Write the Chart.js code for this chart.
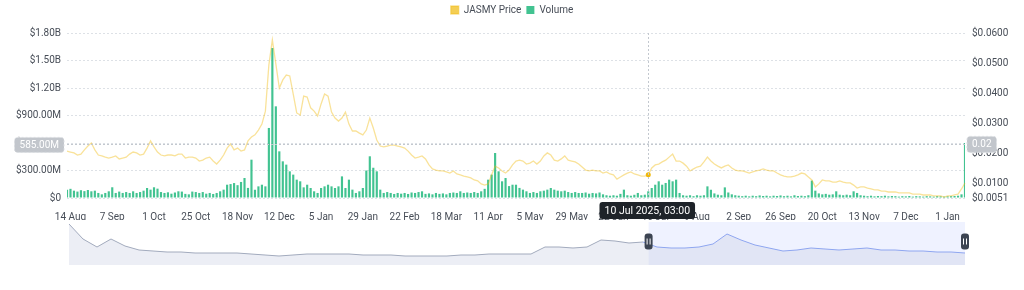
<!DOCTYPE html>
<html>
<head>
<meta charset="utf-8">
<title>JASMY Price and Volume</title>
<script src="https://cdn.jsdelivr.net/npm/chart.js@4.4.1/dist/chart.umd.min.js"></script>
<style>
  body { margin: 0; background: #fff; }
  #wrap { position: relative; width: 1024px; height: 290px; }
  #mainChart { position: absolute; left: 0; top: 0; }
  #navChart { position: absolute; left: 0; top: 215px; }
</style>
</head>
<body>
<div id="wrap">
  <canvas id="mainChart" width="1024" height="220"></canvas>
  <canvas id="navChart" width="1024" height="55"></canvas>
</div>
<script>
// Price in USD, one point every 2 days starting 12 Aug 2024
const priceData = [
  0.0207, 0.0204, 0.0201, 0.0194, 0.0197, 0.0211, 0.0224, 0.0234, 0.0211, 0.0194,
  0.0191, 0.0187, 0.0184, 0.0187, 0.0191, 0.0181, 0.0184, 0.0187, 0.0197, 0.0204,
  0.0201, 0.0194, 0.0197, 0.0217, 0.0241, 0.0221, 0.0204, 0.0194, 0.0191, 0.0194,
  0.0194, 0.0191, 0.0197, 0.0197, 0.0184, 0.0187, 0.0187, 0.0184, 0.0174, 0.0177,
  0.0184, 0.0187, 0.0174, 0.0164, 0.0177, 0.0194, 0.0217, 0.0231, 0.0211, 0.0217,
  0.0207, 0.0211, 0.0241, 0.0254, 0.0261, 0.0277, 0.0297, 0.0340, 0.0494, 0.0577,
  0.0497, 0.0417, 0.0444, 0.0460, 0.0457, 0.0397, 0.0334, 0.0327, 0.0390, 0.0387,
  0.0351, 0.0340, 0.0324, 0.0364, 0.0397, 0.0390, 0.0337, 0.0317, 0.0307, 0.0317,
  0.0337, 0.0297, 0.0274, 0.0274, 0.0267, 0.0261, 0.0277, 0.0317, 0.0284, 0.0244,
  0.0224, 0.0221, 0.0224, 0.0227, 0.0227, 0.0224, 0.0221, 0.0217, 0.0207, 0.0194,
  0.0184, 0.0187, 0.0191, 0.0181, 0.0161, 0.0148, 0.0144, 0.0141, 0.0141, 0.0138,
  0.0134, 0.0141, 0.0131, 0.0128, 0.0124, 0.0121, 0.0118, 0.0111, 0.0108, 0.0098,
  0.0094, 0.0098, 0.0128, 0.0157, 0.0151, 0.0141, 0.0134, 0.0144, 0.0161, 0.0174,
  0.0177, 0.0174, 0.0164, 0.0167, 0.0174, 0.0164, 0.0174, 0.0191, 0.0201, 0.0194,
  0.0177, 0.0174, 0.0181, 0.0191, 0.0177, 0.0174, 0.0171, 0.0164, 0.0154, 0.0144,
  0.0141, 0.0144, 0.0141, 0.0141, 0.0134, 0.0138, 0.0131, 0.0128, 0.0114, 0.0121,
  0.0128, 0.0134, 0.0138, 0.0131, 0.0128, 0.0124, 0.0124, 0.0128, 0.0151, 0.0161,
  0.0164, 0.0171, 0.0177, 0.0187, 0.0197, 0.0174, 0.0174, 0.0167, 0.0157, 0.0141,
  0.0148, 0.0154, 0.0157, 0.0171, 0.0187, 0.0174, 0.0164, 0.0157, 0.0151, 0.0157,
  0.0161, 0.0151, 0.0144, 0.0141, 0.0141, 0.0138, 0.0134, 0.0138, 0.0141, 0.0144,
  0.0148, 0.0144, 0.0141, 0.0141, 0.0134, 0.0128, 0.0124, 0.0121, 0.0121, 0.0124,
  0.0128, 0.0134, 0.0131, 0.0121, 0.0111, 0.0088, 0.0098, 0.0111, 0.0108, 0.0108,
  0.0104, 0.0104, 0.0108, 0.0104, 0.0101, 0.0101, 0.0094, 0.0084, 0.0088, 0.0088,
  0.0084, 0.0081, 0.0078, 0.0078, 0.0074, 0.0074, 0.0071, 0.0071, 0.0071, 0.0068,
  0.0068, 0.0068, 0.0068, 0.0064, 0.0064, 0.0064, 0.0061, 0.0061, 0.0061, 0.0058,
  0.0058, 0.0058, 0.0054, 0.0058, 0.0058, 0.0061, 0.0064, 0.0081, 0.0101
];

// Volume in millions of USD, same dates
const volumeM = [
  90, 100, 80, 70, 85, 75, 87, 73, 80, 55,
  40, 55, 73, 117, 55, 70, 55, 65, 55, 73,
  55, 65, 80, 109, 91, 117, 102, 65, 55, 62,
  47, 60, 73, 70, 45, 40, 70, 65, 55, 65,
  47, 55, 44, 55, 73, 91, 145, 152, 163, 140,
  175, 218, 110, 418, 90, 127, 145, 127, 764, 1636,
  1000, 509, 400, 364, 291, 255, 200, 182, 116, 145,
  109, 73, 55, 109, 127, 145, 127, 109, 127, 236,
  109, 200, 91, 55, 73, 109, 300, 455, 330, 291,
  91, 55, 65, 55, 44, 55, 47, 55, 44, 60,
  55, 65, 73, 45, 50, 40, 55, 45, 50, 40,
  55, 60, 55, 73, 55, 60, 55, 65, 55, 73,
  100, 200, 255, 491, 291, 182, 218, 130, 145, 145,
  110, 91, 73, 55, 65, 55, 73, 80, 91, 109,
  91, 80, 73, 80, 65, 55, 65, 55, 55, 60,
  47, 55, 50, 60, 40, 30, 25, 30, 25, 45,
  91, 30, 25, 35, 55, 30, 36, 73, 109, 145,
  182, 145, 164, 200, 182, 200, 55, 30, 25, 30,
  20, 30, 25, 30, 127, 90, 50, 36, 30, 116,
  60, 40, 30, 25, 20, 25, 18, 25, 20, 28,
  22, 25, 18, 25, 22, 28, 20, 25, 18, 30,
  22, 25, 20, 30, 190, 80, 50, 40, 45, 36,
  40, 73, 36, 30, 36, 30, 73, 55, 30, 25,
  20, 25, 18, 22, 20, 25, 18, 22, 20, 15,
  20, 18, 22, 15, 20, 18, 15, 20, 18, 15,
  20, 18, 15, 18, 20, 22, 25, 40, 600
];

// X axis labels, shown every 12 points (24 days) from point 1
const tickLabels = ['14 Aug', '7 Sep', '1 Oct', '25 Oct', '18 Nov', '12 Dec', '5 Jan', '29 Jan',
  '22 Feb', '18 Mar', '11 Apr', '5 May', '29 May', '22 Jun', '16 Jul', '9 Aug', '2 Sep',
  '26 Sep', '20 Oct', '13 Nov', '7 Dec', '1 Jan'];
const firstTickIndex = 1;
const tickEvery = 12;

// Right axis ticks
const priceTicks = [0.0051, 0.01, 0.02, 0.03, 0.04, 0.05, 0.06];

// Crosshair state shown in the picture
const hoverIndex = 167;
const hoverVolume = 585e6;
const hoverTime = '10 Jul 2025, 03:00';

// Navigator: long price history (relative level) and selected window
const navigatorPrice = [
  41, 26, 18, 26, 19, 15, 14, 13, 13, 12,
  12, 12, 12, 11, 10, 9, 10, 11, 11, 11,
  11, 10, 10, 10, 9, 9, 9, 9, 10, 10,
  11, 11, 11, 11, 18, 18, 17, 18, 25, 24,
  22, 23, 18, 17, 17, 18, 21, 31, 25, 20,
  17, 14, 15, 17, 16, 15, 16, 17, 15, 15,
  14, 14, 13, 13, 12
];
const navigatorRange = [41.4, 64];

const fontFamily = 'Roboto, "Noto Sans", sans-serif';
const textColor = '#474D57';

// Build date labels for the main chart
const startDate = new Date(2024, 7, 12);
const labels = priceData.map((_, i) => {
    const d = new Date(startDate);
    d.setDate(d.getDate() + 2 * i);
    return d.toLocaleDateString('en-GB', { day: 'numeric', month: 'short', year: 'numeric' });
});

function formatVolume(v) {
    if (v === 0) return '$0';
    if (v >= 1e9) return '$' + (v / 1e9).toFixed(2) + 'B';
    return '$' + (v / 1e6).toFixed(2) + 'M';
}

// Keep the legend row at the top and push the plot down to its place
const legendSpacer = {
    id: 'legendSpacer',
    beforeInit(chart) {
        const origFit = chart.legend.fit;
        chart.legend.fit = function() {
            origFit.bind(this)();
            this.height = 33;
        };
    }
};

function drawTag(ctx, text, x, y, w, h, fill, stroke) {
    ctx.beginPath();
    ctx.roundRect(x, y, w, h, 3);
    ctx.fillStyle = fill;
    ctx.fill();
    if (stroke) {
        ctx.setLineDash([2, 2]);
        ctx.strokeStyle = stroke;
        ctx.lineWidth = 1;
        ctx.stroke();
        ctx.setLineDash([]);
    }
    ctx.fillStyle = '#FFFFFF';
    ctx.textAlign = 'center';
    ctx.textBaseline = 'middle';
    ctx.fillText(text, x + w / 2, y + h / 2 + 0.5);
}

const crosshair = {
    id: 'crosshair',
    afterDatasetsDraw(chart) {
        const { ctx, chartArea: a, scales } = chart;
        const x = Math.round(scales.x.getPixelForValue(hoverIndex)) + 0.5;
        const y = Math.round(scales.yVol.getPixelForValue(hoverVolume)) + 0.5;
        ctx.save();
        ctx.strokeStyle = '#C3C8CF';
        ctx.lineWidth = 1;
        ctx.setLineDash([2, 2]);
        ctx.beginPath();
        ctx.moveTo(x, a.top);
        ctx.lineTo(x, a.bottom);
        ctx.moveTo(a.left, y);
        ctx.lineTo(a.right, y);
        ctx.stroke();
        ctx.restore();
    },
    afterDraw(chart) {
        const { ctx, chartArea: a, scales } = chart;
        const x = scales.x.getPixelForValue(hoverIndex);
        const y = scales.yVol.getPixelForValue(hoverVolume);
        ctx.save();
        ctx.font = '10px ' + fontFamily;

        // left tag with the volume value
        const volText = (hoverVolume / 1e6).toFixed(2) + 'M';
        const lw = ctx.measureText(volText).width + 10;
        drawTag(ctx, volText, a.left - 3 - lw, y - 7, lw, 15, '#C2C6CC', '#DADDE1');

        // right tag with the price value
        const priceText = scales.yPrice.getValueForPixel(y).toFixed(2);
        const rw = ctx.measureText(priceText).width + 10;
        drawTag(ctx, priceText, a.right + 2, y - 8, rw, 16, '#C2C6CC', '#DADDE1');

        // bottom tag with the time
        ctx.font = '10.5px ' + fontFamily;
        const tw = ctx.measureText(hoverTime).width + 10;
        drawTag(ctx, hoverTime, x - tw / 2 - 1, a.bottom + 4, tw, 17, '#1E2329', null);
        ctx.restore();
    }
};

const mainChart = new Chart(document.getElementById('mainChart'), {
    type: 'bar',
    data: {
        labels: labels,
        datasets: [{
            type: 'line',
            label: 'JASMY Price',
            data: priceData,
            yAxisID: 'yPrice',
            order: 0,
            borderColor: 'rgba(240, 185, 11, 0.42)',
            backgroundColor: 'rgba(240, 185, 11, 0.7)',
            borderWidth: 1.3,
            tension: 0,
            pointRadius: ctx => ctx.dataIndex === hoverIndex ? 2.5 : 0,
            pointBackgroundColor: '#F0B90B',
            pointBorderWidth: 0
        }, {
            label: 'Volume',
            data: volumeM.map(v => v * 1e6),
            yAxisID: 'yVol',
            order: 1,
            backgroundColor: 'rgba(46, 189, 133, 0.9)',
            barPercentage: 0.62,
            categoryPercentage: 1
        }]
    },
    options: {
        responsive: false,
        animation: false,
        events: [],
        layout: { padding: 0 },
        plugins: {
            tooltip: { enabled: false },
            legend: {
                position: 'top',
                align: 'center',
                labels: {
                    boxWidth: 8,
                    boxHeight: 8,
                    padding: 5,
                    color: textColor,
                    font: { family: fontFamily, size: 10 }
                }
            }
        },
        scales: {
            x: {
                offset: false,
                grid: { display: false },
                border: { display: false },
                afterBuildTicks: scale => {
                    scale.ticks = scale.ticks.filter(t => t.value >= firstTickIndex &&
                        (t.value - firstTickIndex) % tickEvery === 0);
                },
                afterFit: scale => { scale.height = 22; },
                ticks: {
                    autoSkip: false,
                    maxRotation: 0,
                    padding: 5,
                    color: textColor,
                    font: { family: fontFamily, size: 10 },
                    callback: value => tickLabels[(value - firstTickIndex) / tickEvery]
                }
            },
            yVol: {
                position: 'left',
                min: 0,
                max: 1.8e9,
                grid: { color: '#DDE1E6', drawTicks: false },
                border: { display: false, dash: [2, 2] },
                afterFit: scale => { scale.width = 67; },
                ticks: {
                    stepSize: 3e8,
                    padding: 6,
                    color: textColor,
                    font: { family: fontFamily, size: 10 },
                    callback: value => formatVolume(value)
                }
            },
            yPrice: {
                position: 'right',
                min: 0.0051,
                max: 0.06,
                grid: { drawOnChartArea: false, drawTicks: false },
                border: { display: false },
                afterBuildTicks: scale => {
                    scale.ticks = priceTicks.map(v => ({ value: v }));
                },
                afterFit: scale => { scale.width = 59; },
                ticks: {
                    padding: 7,
                    color: textColor,
                    font: { family: fontFamily, size: 10 },
                    callback: value => '$' + value.toFixed(4)
                }
            }
        }
    },
    plugins: [legendSpacer, crosshair]
});

// Navigator below the main chart
const navigatorOverlay = {
    id: 'navigatorOverlay',
    beforeDatasetsDraw(chart) {
        const { ctx, chartArea: a, scales: { x } } = chart;
        const x0 = x.getPixelForValue(navigatorRange[0]);
        const x1 = x.getPixelForValue(navigatorRange[1]);
        ctx.save();
        ctx.fillStyle = 'rgba(120, 145, 255, 0.12)';
        ctx.fillRect(x0, a.top, x1 - x0, a.bottom - a.top);
        ctx.restore();
    },
    afterDraw(chart) {
        const { ctx, chartArea: a, scales: { x } } = chart;
        const cy = (a.top + a.bottom) / 2 - 2;
        navigatorRange.forEach(v => {
            const hx = x.getPixelForValue(v);
            ctx.save();
            ctx.beginPath();
            ctx.roundRect(hx - 4, cy - 8, 8, 16, 3);
            ctx.fillStyle = '#3C4452';
            ctx.fill();
            ctx.strokeStyle = '#FFFFFF';
            ctx.lineWidth = 1;
            ctx.beginPath();
            ctx.moveTo(hx - 1.5, cy - 3);
            ctx.lineTo(hx - 1.5, cy + 3);
            ctx.moveTo(hx + 1.5, cy - 3);
            ctx.lineTo(hx + 1.5, cy + 3);
            ctx.stroke();
            ctx.restore();
        });
    }
};

const navChart = new Chart(document.getElementById('navChart'), {
    type: 'line',
    data: {
        labels: navigatorPrice.map((_, i) => i),
        datasets: [{
            data: navigatorPrice,
            borderColor: '#A2AABD',
            backgroundColor: 'rgba(200, 207, 226, 0.35)',
            borderWidth: 1,
            fill: 'origin',
            pointRadius: 0,
            tension: 0,
            segment: {
                borderColor: ctx => ctx.p0DataIndex >= Math.floor(navigatorRange[0]) ? '#8FA6F0' : undefined
            }
        }]
    },
    options: {
        responsive: false,
        animation: false,
        events: [],
        layout: { padding: { left: 69, right: 59, top: 7, bottom: 5 } },
        plugins: { legend: { display: false }, tooltip: { enabled: false } },
        scales: {
            x: { display: false, offset: false },
            y: { display: false, min: 0, max: 43 }
        }
    },
    plugins: [navigatorOverlay]
});
</script>
</body>
</html>
